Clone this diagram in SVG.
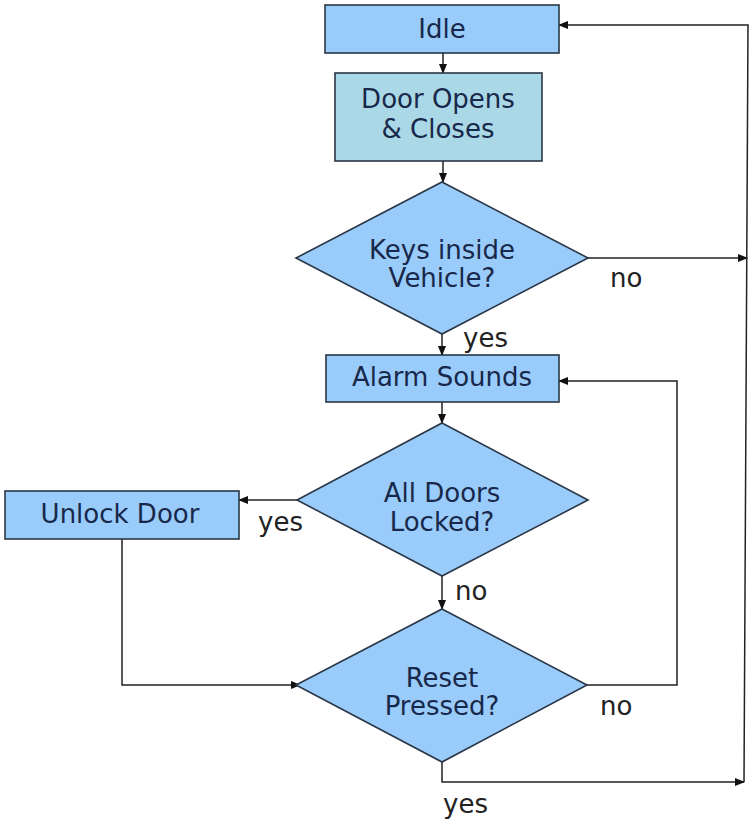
<svg xmlns="http://www.w3.org/2000/svg" width="751" height="821" viewBox="0 0 751 821">
<style>
.box{fill:#99ccfa;stroke:#2a3646;stroke-width:1.6}
.box2{fill:#aad8e6;stroke:#2a3646;stroke-width:1.6}
.t{font-family:"DejaVu Sans",Verdana,sans-serif;font-size:26px;fill:#18284a;text-anchor:middle}
.lbl{font-family:"DejaVu Sans",Verdana,sans-serif;font-size:26px;fill:#222}
.c{fill:none;stroke:#222;stroke-width:1.5}
</style>
<defs>
<marker id="ah" markerWidth="10" markerHeight="8" refX="9" refY="4" orient="auto" markerUnits="userSpaceOnUse">
<path d="M0,0 L10,4 L0,8 Z" fill="#111"/>
</marker>
</defs>
<rect width="751" height="821" fill="#fff"/>
<g id="connectors">
<line class="c" x1="443" y1="53" x2="443" y2="73" marker-end="url(#ah)"/>
<line class="c" x1="443" y1="161" x2="443" y2="182" marker-end="url(#ah)"/>
<line class="c" x1="442" y1="334" x2="442" y2="355" marker-end="url(#ah)"/>
<line class="c" x1="588" y1="258" x2="747" y2="258" marker-end="url(#ah)"/>
<line class="c" x1="442" y1="402" x2="442" y2="423" marker-end="url(#ah)"/>
<line class="c" x1="297" y1="500" x2="239" y2="500" marker-end="url(#ah)"/>
<line class="c" x1="442" y1="576" x2="442" y2="609" marker-end="url(#ah)"/>
<polyline class="c" points="122,539 122,685 300,685" marker-end="url(#ah)"/>
<polyline class="c" points="587,685 677,685 677,381 559,381" marker-end="url(#ah)"/>
<polyline class="c" points="442,762 442,782 744,782" marker-end="url(#ah)"/>
<polyline class="c" points="744,782 748,25 559,25" marker-end="url(#ah)"/>
</g>
<g id="idle">
<rect class="box" x="325" y="5" width="234" height="48"/>
<text class="t" x="442" y="38">Idle</text>
</g>
<g id="door-opens">
<rect class="box2" x="335" y="73" width="207" height="88"/>
<text class="t" x="438" y="108">Door Opens</text>
<text class="t" x="438" y="138">&amp; Closes</text>
</g>
<g id="keys-inside">
<polygon class="box" points="442,182 588,258 442,334 296,258"/>
<text class="t" x="442" y="259">Keys inside</text>
<text class="t" x="442" y="287">Vehicle?</text>
</g>
<g id="alarm-sounds">
<rect class="box" x="326" y="355" width="233" height="47"/>
<text class="t" x="442" y="386">Alarm Sounds</text>
</g>
<g id="all-doors-locked">
<polygon class="box" points="442,423 588,500 442,576 297,500"/>
<text class="t" x="442" y="502">All Doors</text>
<text class="t" x="442" y="531">Locked?</text>
</g>
<g id="unlock-door">
<rect class="box" x="5" y="491" width="234" height="48"/>
<text class="t" x="120" y="523">Unlock Door</text>
</g>
<g id="reset-pressed">
<polygon class="box" points="442,609 587,685 442,762 296,685"/>
<text class="t" x="442" y="687">Reset</text>
<text class="t" x="442" y="715">Pressed?</text>
</g>
<g id="labels">
<text class="lbl" x="610" y="287">no</text>
<text class="lbl" x="463" y="347">yes</text>
<text class="lbl" x="258" y="531">yes</text>
<text class="lbl" x="455" y="600">no</text>
<text class="lbl" x="600" y="715">no</text>
<text class="lbl" x="443" y="813">yes</text>
</g>
</svg>
